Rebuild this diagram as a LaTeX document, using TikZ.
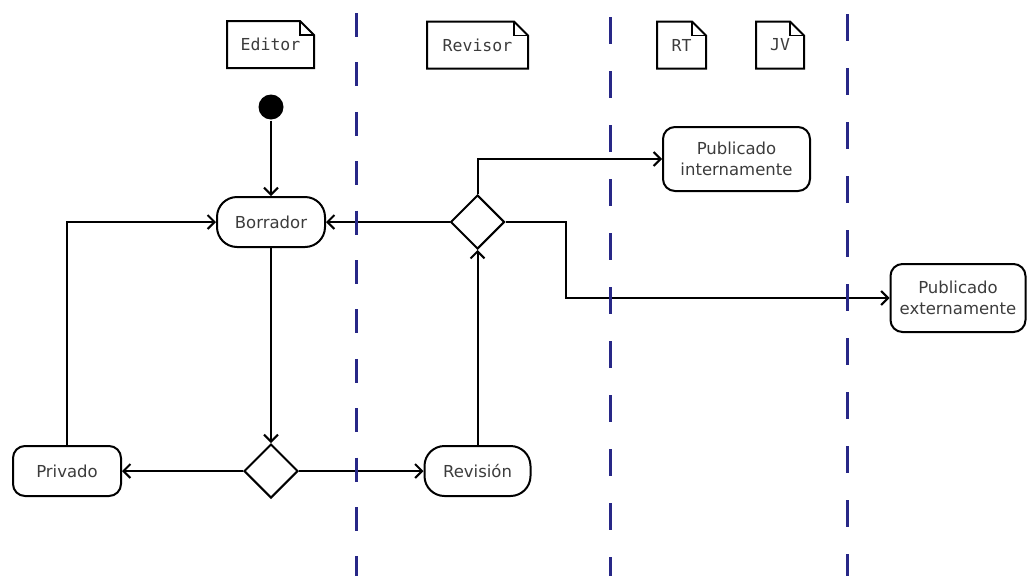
\documentclass[tikz,border=0pt]{standalone}
\usepackage{fontspec}
\setmainfont{DejaVu Sans}
\newfontfamily\notefont{DejaVu Sans Mono}
\usetikzlibrary{arrows.meta,shapes.geometric}
\definecolor{lane}{RGB}{40,40,135}
\definecolor{txt}{RGB}{60,60,60}
\begin{document}
\begin{tikzpicture}[x=1pt,y=-1pt,line width=2pt,
  statebox/.style={draw,rounded corners=20pt,minimum height=50pt,inner sep=0pt,
    font=\fontsize{16.5}{21}\selectfont,text=txt,align=center},
  pubbox/.style={draw,rounded corners=12pt,inner sep=0pt,
    font=\fontsize{16.5}{21}\selectfont,text=txt,align=center},
  choice/.style={draw,diamond,minimum width=54pt,minimum height=54pt,inner sep=0pt},
  notebox/.style={inner sep=0pt,minimum height=45pt,font=\notefont\fontsize{16.5}{20}\selectfont,text=txt},
  flow/.style={-{Straight Barb[length=7pt,width=14pt]}},
  swim/.style={lane,line width=3pt}]
\useasboundingbox (0,0) rectangle (1028,576);

% swimlane notes
\node[notebox,minimum width=85pt] (ed) at (270.5,44.5) {Editor};
\node[notebox,minimum width=99pt] (rv) at (477.5,45) {Revisor};
\node[notebox,minimum width=47pt] (rt) at (681.5,45) {RT};
\node[notebox,minimum width=46pt] (jv) at (780,45) {JV};
\foreach \n in {ed,rv,rt,jv}{
  \draw[line join=miter] (\n.south west) -- (\n.north west) -- ([xshift=-14pt]\n.north east)
    -- ([yshift=-14pt]\n.north east) -- (\n.south east) -- cycle;
  \draw[line width=1.2pt] ([xshift=-14pt]\n.north east) |- ([yshift=-14pt]\n.north east);
}

% nodes
\node[circle,fill=black,minimum size=25pt,inner sep=0pt] (start) at (271,107) {};
\node[statebox,minimum width=108pt] (borr) at (271,222) {Borrador};
\node[choice] (d1) at (271,471) {};
\node[statebox,rounded corners=12pt,minimum width=108pt] (priv) at (67,471) {Privado};
\node[statebox,minimum width=106pt] (rev) at (477.5,471) {Revisión};
\node[choice] (d2) at (477.5,222) {};
\node[pubbox,minimum width=147pt,minimum height=64pt] (pint) at (736.5,159) {Publicado\\internamente};
\node[pubbox,minimum width=135pt,minimum height=68pt] (pext) at (958,298) {Publicado\\externamente};
\coordinate (bend) at (566,298);

% connectors
\draw[flow] (start) -- (borr);
\draw[flow] (borr) -- (d1.north);
\draw[flow] (d1.west) -- (priv);
\draw[flow] (d1.east) -- (rev);
\draw[flow] (priv.north) |- (borr.west);
\draw[flow] (rev) -- (d2.south);
\draw[flow] (d2.west) -- (borr.east);
\draw[flow] (d2.north) |- (pint.west);
\draw[flow] (d2.east) -| (bend) -- (pext.west);

% swimlane separators
\draw[swim,dash pattern=on 24pt off 25.4pt] (356,13) -- (356,576);
\draw[swim,dash pattern=on 27pt off 27pt] (610,17) -- (610,576);
\draw[swim,dash pattern=on 27pt off 27pt] (847,14) -- (847,576);
\end{tikzpicture}
\end{document}
